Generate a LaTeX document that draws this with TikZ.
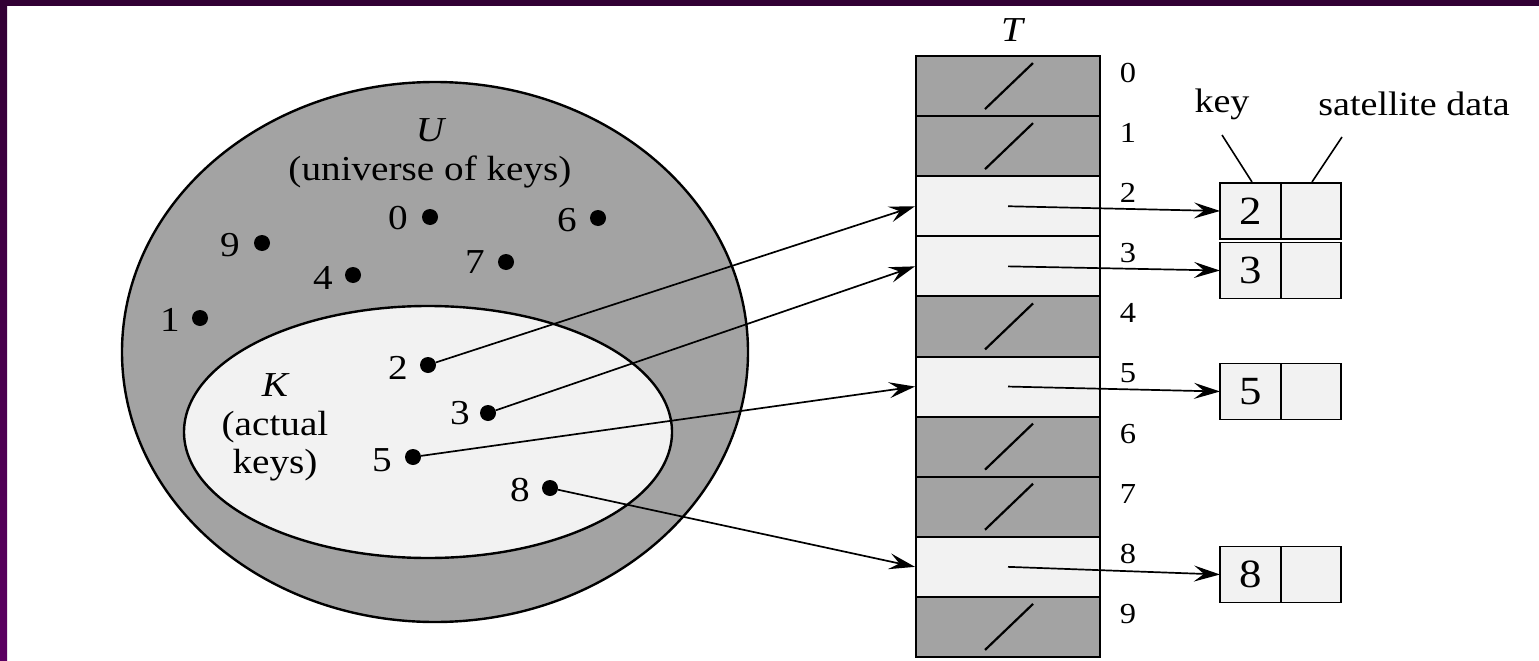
\documentclass[tikz,border=0pt]{standalone}
\usepackage{fontspec}
\setmainfont{Liberation Serif}
\usepackage{graphicx}
\usetikzlibrary{arrows.meta,calc}
\definecolor{framedark}{RGB}{50,0,52}
\definecolor{framelight}{RGB}{92,0,98}
\definecolor{darkfill}{gray}{0.64}
\definecolor{lightfill}{gray}{0.95}
\newcommand\wtext[1]{\scalebox{1.12}[1]{#1}}
\begin{document}
\begin{tikzpicture}[x=1pt,y=-1pt,
 lbl/.style={font=\fontsize{35}{40}\selectfont, inner sep=0pt},
 idx/.style={font=\fontsize{29}{32}\selectfont, inner sep=0pt},
 dot/.style={circle, fill=black, inner sep=0pt, minimum size=16pt},
 cell/.style={draw=black, line width=2pt, minimum width=184pt, minimum height=60.1pt, inner sep=0pt},
 fullcell/.style={cell, fill=lightfill},
 nilcell/.style={cell, fill=darkfill},
 kcell/.style={draw=black, line width=1.8pt, fill=lightfill, minimum width=61pt, minimum height=56pt, inner sep=0pt, outer sep=0pt, font=\fontsize{40}{44}\selectfont},
 ptr/.style={line width=1.7pt, -{Stealth[length=26pt,width=16pt,inset=10pt]}},
 slashline/.style={line width=2.2pt},
 leader/.style={line width=1.6pt},
]
\useasboundingbox (0,0) rectangle (1539,661);
\fill[white] (0,0) rectangle (1539,661);
% frame
\shade[top color=framedark, bottom color=framelight] (0,0) rectangle (7,661);
\fill[framedark] (0,0) rectangle (1539,6);

% sets
\draw[line width=2.4pt, fill=darkfill] (435,352) ellipse [x radius=313, y radius=270];
\draw[line width=2.4pt, fill=lightfill] (428,432) ellipse [x radius=244, y radius=126];

\node[lbl] (Ulbl) at (430,130) {\wtext{\itshape U}};
\node[lbl] (Utxt) at (430,172) {\wtext{(universe of keys)}};
\node[lbl] (Klbl) at (275,385) {\wtext{\itshape K}};
\node[lbl] (Ktxt1) at (275,427) {\wtext{(actual}};
\node[lbl] (Ktxt2) at (275,465) {\wtext{keys)}};

% key points
\node[dot] (d0) at (430,217) {};
\node[dot] (d6) at (598,218) {};
\node[dot] (d9) at (262,243) {};
\node[dot] (d4) at (353,275) {};
\node[dot] (d7) at (506,262) {};
\node[dot] (d1) at (200,318) {};
\node[dot] (d2) at (428,365) {};
\node[dot] (d3) at (488,413) {};
\node[dot] (d5) at (413,457) {};
\node[dot] (d8) at (550,488) {};
\node[lbl] (l0) at (398,218) {\wtext{0}};
\node[lbl] (l6) at (567,220) {\wtext{6}};
\node[lbl] (l9) at (230,245) {\wtext{9}};
\node[lbl] (l4) at (323,278) {\wtext{4}};
\node[lbl] (l7) at (475,262) {\wtext{7}};
\node[lbl] (l1) at (170,320) {\wtext{1}};
\node[lbl] (l2) at (398,368) {\wtext{2}};
\node[lbl] (l3) at (460,413) {\wtext{3}};
\node[lbl] (l5) at (382,460) {\wtext{5}};
\node[lbl] (l8) at (520,490) {\wtext{8}};

% table T
\node[lbl] (Tlbl) at (1012,30) {\wtext{\itshape T}};
\foreach \i/\s in {0/nilcell,1/nilcell,2/fullcell,3/fullcell,4/nilcell,5/fullcell,6/nilcell,7/nilcell,8/fullcell,9/nilcell}
  \node[\s] (r\i) at (1008,{56+60.1*(\i+0.5)}) {};
\foreach \i in {0,1,4,6,7,9}
  \draw[slashline] ($(r\i.center)+(-23,23)$) -- ($(r\i.center)+(25,-23)$);
\foreach \i in {0,...,9}
  \node[idx] (n\i) at (1128,{56+60.1*(\i+0.5)-13}) {\wtext{\i}};

% elements
\node[kcell] (k2) at (1250.5,211) {\wtext{2}};
\node[kcell, minimum width=60pt, anchor=west] (s2) at (k2.east) {};
\node[kcell] (k3) at (1250.5,270.5) {\wtext{3}};
\node[kcell, minimum width=60pt, anchor=west] (s3) at (k3.east) {};
\node[kcell] (k5) at (1250.5,391.5) {\wtext{5}};
\node[kcell, minimum width=60pt, anchor=west] (s5) at (k5.east) {};
\node[kcell] (k8) at (1250.5,574.5) {\wtext{8}};
\node[kcell, minimum width=60pt, anchor=west] (s8) at (k8.east) {};

\node[lbl, font=\fontsize{34}{38}\selectfont] (keylbl) at (1222,104) {\wtext{key}};
\node[lbl, font=\fontsize{34}{38}\selectfont] (satlbl) at (1414,104) {\wtext{satellite data}};
\coordinate (kA) at (1222,135);
\coordinate (kB) at (1252,182);
\coordinate (sA) at (1342,137);
\coordinate (sB) at (1312,182);
\draw[leader] (kA) -- (kB);
\draw[leader] (sA) -- (sB);

% pointers
\draw[ptr] (d2) -- (r2.west);
\draw[ptr] (d3) -- (r3.west);
\draw[ptr] (d5) -- (r5.west);
\draw[ptr] (d8) -- (r8.west);
\draw[ptr] (r2.center) -- (k2.west);
\draw[ptr] (r3.center) -- (k3.west);
\draw[ptr] (r5.center) -- (k5.west);
\draw[ptr] (r8.center) -- (k8.west);
\end{tikzpicture}
\end{document}
